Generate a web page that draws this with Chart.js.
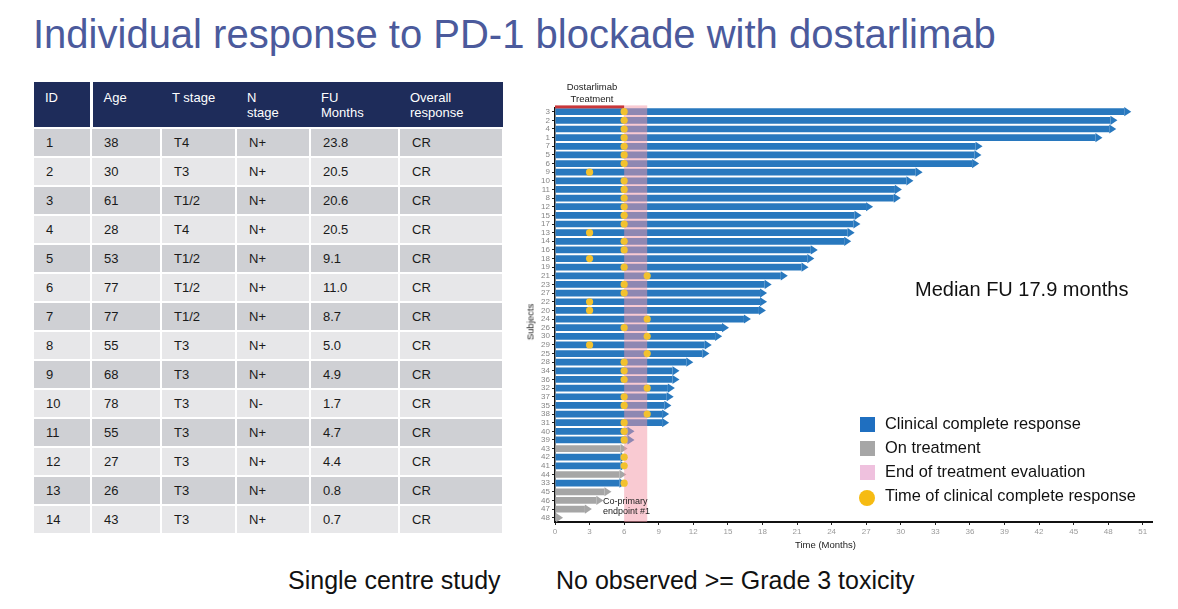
<!DOCTYPE html>
<html>
<head>
<meta charset="utf-8">
<title>Individual response to PD-1 blockade with dostarlimab</title>
<script src="https://cdn.jsdelivr.net/npm/chart.js@4.4.1/dist/chart.umd.min.js"></script>
<style>
  body { margin: 0; width: 1178px; height: 609px; background: #fff; position: relative; overflow: hidden;
         font-family: Arial, "Liberation Sans", sans-serif; color: #111; }
  .abs { position: absolute; white-space: nowrap; }
  #title { left: 33px; top: 12px; font-size: 40px; color: #4b5a9c; }
  #patients { position: absolute; left: 34px; top: 82px; border-collapse: collapse; table-layout: fixed; width: 469px; font-size: 13px; }
  #patients th { background: #1e2c5a; color: #fff; font-weight: normal; text-align: left; vertical-align: top;
                 height: 46px; padding: 8px 0 0 11px; box-sizing: border-box; line-height: 15px; border-bottom: 2px solid #fff; }
  #patients th.first { border-right: 3px solid #fff; }
  #patients td { height: 29px; padding: 0 0 0 12px; box-sizing: border-box; border-right: 2px solid #fff; border-bottom: 2px solid #fff; color: #1a1a1a; }
  #patients tr.odd td { background: #cfd0d4; }
  #patients tr.even td { background: #e7e7e9; }
  #chartBox { position: absolute; left: 515px; top: 75px; width: 650px; height: 485px; }
  .small { font-size: 9.5px; color: #222; }
  .legend { left: 860px; font-size: 16.4px; }
  .swatch { position: absolute; width: 15px; height: 15px; }
</style>
</head>
<body>
<div id="title" class="abs">Individual response to PD-1 blockade with dostarlimab</div>

<table id="patients"></table>

<div id="chartBox"><canvas id="swimmer" width="650" height="485"></canvas></div>

<div class="abs small" style="left:592px; top:81px; transform:translateX(-50%); text-align:center; line-height:12px;">Dostarlimab<br>Treatment</div>
<div class="abs small" style="left:603px; top:496px; line-height:10px; font-size:9px;">Co-primary<br>endpoint #1</div>
<div class="abs small" style="left:530px; top:322px; transform:translate(-50%,-50%) rotate(-90deg);">Subjects</div>
<div class="abs small" style="left:795px; top:539px;">Time (Months)</div>

<div class="abs" style="left:915px; top:278px; font-size:20px;">Median FU 17.9 months</div>

<div class="swatch" style="left:860px; top:417px; background:#1f6fc0;"></div>
<div class="abs legend" style="left:885px; top:414px;">Clinical complete response</div>
<div class="swatch" style="left:860px; top:441px; background:#a6a6a6;"></div>
<div class="abs legend" style="left:885px; top:438px;">On treatment</div>
<div class="swatch" style="left:860px; top:465px; background:#efc1de;"></div>
<div class="abs legend" style="left:885px; top:462px;">End of treatment evaluation</div>
<div class="swatch" style="left:859px; top:490px; width:16px; height:16px; border-radius:50%; background:#f6bb12;"></div>
<div class="abs legend" style="left:885px; top:486px;">Time of clinical complete response</div>

<div class="abs" style="left:288px; top:566px; font-size:25px;">Single centre study</div>
<div class="abs" style="left:556px; top:566px; font-size:25px;">No observed &gt;= Grade 3 toxicity</div>

<script>
// patient table
var tableHeaders = ['ID', 'Age', 'T stage', 'N<br>stage', 'FU<br>Months', 'Overall<br>response'];
var tableIds = [1, 2, 3, 4, 5, 6, 7, 8, 9, 10, 11, 12, 13, 14];
var ages = [38, 30, 61, 28, 53, 77, 77, 55, 68, 78, 55, 27, 26, 43];
var tStages = ['T4', 'T3', 'T1/2', 'T4', 'T1/2', 'T1/2', 'T1/2', 'T3', 'T3', 'T3', 'T3', 'T3', 'T3', 'T3'];
var nStages = ['N+', 'N+', 'N+', 'N+', 'N+', 'N+', 'N+', 'N+', 'N+', 'N-', 'N+', 'N+', 'N+', 'N+'];
var fuMonths = ['23.8', '20.5', '20.6', '20.5', '9.1', '11.0', '8.7', '5.0', '4.9', '1.7', '4.7', '4.4', '0.8', '0.7'];
var responses = ['CR', 'CR', 'CR', 'CR', 'CR', 'CR', 'CR', 'CR', 'CR', 'CR', 'CR', 'CR', 'CR', 'CR'];

// swimmer plot, subjects from top to bottom
var subjects = ['3', '2', '4', '1', '7', '5', '6', '9', '10', '11', '8', '12', '15', '17', '13', '14',
                '16', '18', '19', '21', '23', '27', '22', '20', '24', '26', '30', '29', '25', '28', '34', '36',
                '32', '37', '35', '38', '31', '40', '39', '43', '42', '41', '44', '33', '45', '46', '47', '48'];
var followUp = [50.0, 48.8, 48.7, 47.5, 37.1, 37.0, 36.8, 31.9, 31.1, 30.1, 30.0, 27.6, 26.6, 26.5, 26.0, 25.7,
                22.8, 22.5, 22.0, 20.2, 18.8, 18.4, 18.4, 18.3, 17.0, 15.1, 14.5, 13.6, 13.4, 12.0, 10.8, 10.8,
                10.4, 10.3, 10.1, 9.9, 9.9, 6.9, 6.9, 6.3, 6.3, 6.3, 6.2, 6.2, 4.9, 4.2, 3.2, 0.7];
var onTreatment = ['43', '44', '45', '46', '47', '48'];
var crTime = [6, 6, 6, 6, 6, 6, 6, 3, 6, 6, 6, 6, 6, 6, 3, 6,
              6, 3, 6, 8, 6, 6, 3, 3, 8, 6, 8, 3, 8, 6, 6, 6,
              8, 6, 6, 8, 6, 6, 6, null, 6, 6, null, 6, null, null, null, null];
var treatmentEnd = 6;
var evaluationEnd = 8;

function buildTable() {
    var t = document.getElementById('patients');
    var widths = [57, 70, 75, 74, 89, 104];
    var html = '<colgroup>' + widths.map(w => '<col style="width:' + w + 'px">').join('') + '</colgroup>';
    html += '<tr>' + tableHeaders.map((h, i) => '<th' + (i == 0 ? ' class="first"' : '') + '>' + h + '</th>').join('') + '</tr>';
    tableIds.forEach((id, i) => {
        html += '<tr class="' + (i % 2 == 0 ? 'odd' : 'even') + '">' +
            [id, ages[i], tStages[i], nStages[i], fuMonths[i], responses[i]].map(v => '<td>' + v + '</td>').join('') + '</tr>';
    });
    t.innerHTML = html;
}

// bars end in an arrow head, the window 6-8 months is shaded
var ARROW = 7;
var swimmerPlugin = {
    id: 'swimmer',
    beforeDatasetDraw(chart, args) {
        var meta = args.meta;
        if (meta.type == 'bar') {
            meta.data.forEach(el => { el.$tip = el.x; el.x = Math.max(el.base, el.x - ARROW); });
        } else {
            var ctx = chart.ctx, x = chart.scales.x, area = chart.chartArea;
            ctx.save();
            ctx.fillStyle = 'rgba(244,150,165,0.5)';
            ctx.fillRect(x.getPixelForValue(treatmentEnd), area.top - 2, x.getPixelForValue(evaluationEnd) - x.getPixelForValue(treatmentEnd), area.bottom - area.top + 2);
            ctx.fillStyle = '#c8373a';
            ctx.fillRect(x.getPixelForValue(0), area.top - 2, x.getPixelForValue(treatmentEnd) - x.getPixelForValue(0), 3);
            ctx.restore();
        }
    },
    afterDatasetDraw(chart, args) {
        var meta = args.meta;
        if (meta.type != 'bar') return;
        var ds = chart.data.datasets[args.index];
        var ctx = chart.ctx;
        ctx.save();
        ctx.fillStyle = ds.backgroundColor;
        meta.data.forEach((el, i) => {
            var tip = el.$tip;
            el.x = tip;
            if (ds.data[i] == null) return;
            ctx.beginPath();
            ctx.moveTo(tip - ARROW, el.y - 4.6);
            ctx.lineTo(tip, el.y);
            ctx.lineTo(tip - ARROW, el.y + 4.6);
            ctx.closePath();
            ctx.fill();
        });
        ctx.restore();
    }
};

function createChart() {
    Chart.defaults.font.family = 'Arial, "Liberation Sans", sans-serif';
    var crData = followUp.map((v, i) => onTreatment.includes(subjects[i]) ? null : v);
    var onData = followUp.map((v, i) => onTreatment.includes(subjects[i]) ? v : null);
    var points = [];
    subjects.forEach((s, i) => { if (crTime[i] != null) points.push({ x: crTime[i], y: s }); });

    new Chart(document.getElementById('swimmer'), {
        type: 'bar',
        data: {
            labels: subjects,
            datasets: [{
                label: 'Clinical complete response',
                data: crData,
                backgroundColor: '#2878be',
                barPercentage: 0.78,
                categoryPercentage: 1,
                grouped: false,
                order: 1
            }, {
                label: 'On treatment',
                data: onData,
                backgroundColor: '#a6a6a6',
                barPercentage: 0.78,
                categoryPercentage: 1,
                grouped: false,
                order: 1
            }, {
                type: 'scatter',
                label: 'Time of clinical complete response',
                data: points,
                backgroundColor: '#f2c12e',
                borderWidth: 0,
                pointRadius: 3.6,
                order: 0
            }]
        },
        options: {
            indexAxis: 'y',
            responsive: false,
            animation: false,
            layout: { padding: { top: 32.4, right: 13, left: 0, bottom: 0 } },
            plugins: { legend: { display: false }, tooltip: { enabled: false } },
            scales: {
                x: {
                    type: 'linear',
                    min: 0,
                    max: 51.8,
                    afterFit: s => { s.height = 38; },
                    ticks: { stepSize: 3, includeBounds: false, color: '#9a9a9a', font: { size: 8 }, padding: 2, maxRotation: 0, autoSkip: false },
                    grid: { drawOnChartArea: false, tickLength: 3, color: '#222' },
                    border: { color: '#111', width: 2 }
                },
                y: {
                    type: 'category',
                    afterFit: s => { s.width = 40; },
                    ticks: { color: '#858585', font: { size: 8 }, padding: 2, autoSkip: false },
                    grid: { drawOnChartArea: false, tickLength: 3, color: '#222', offset: false },
                    border: { color: '#111', width: 1.5 }
                }
            }
        },
        plugins: [swimmerPlugin]
    });
}

buildTable();
createChart();
</script>
</body>
</html>
